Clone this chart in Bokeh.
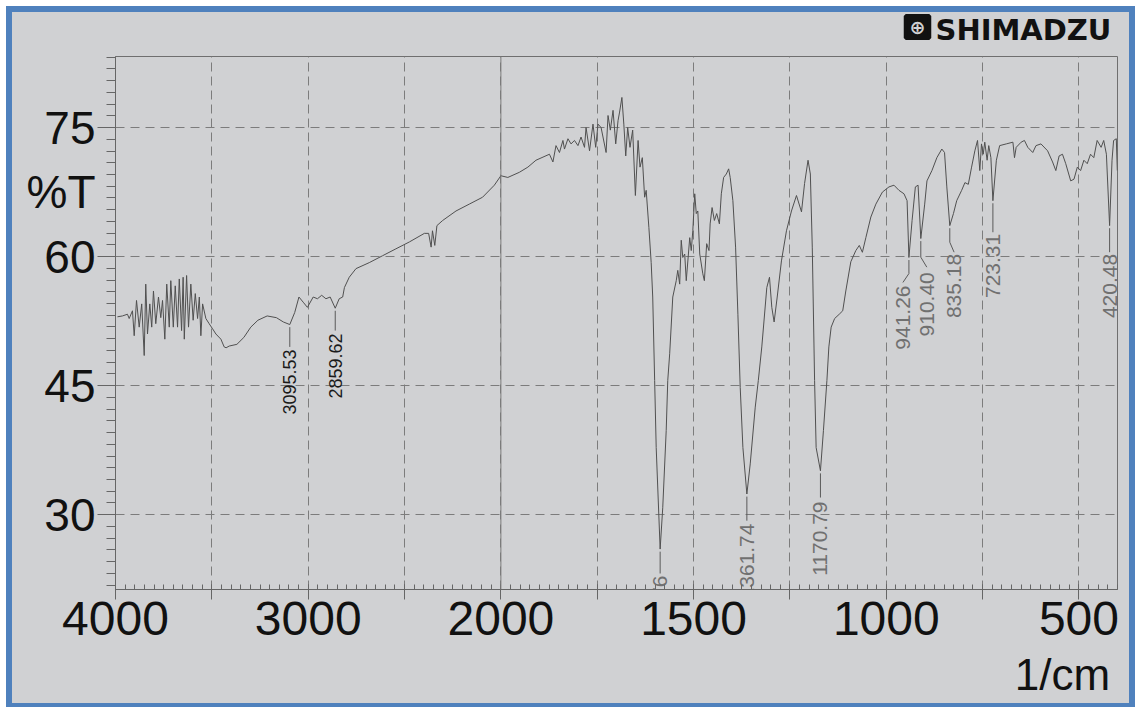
import numpy as np
from bokeh.plotting import figure
from bokeh.models import Range1d, FixedTicker, Span, Label, LinearAxis
from bokeh.core.properties import value
from bokeh.embed import file_html
from bokeh.resources import INLINE

# ---- FTIR trace: wavenumber (1/cm) and %T ----
wavenumber = [
    3990, 3964, 3938, 3929, 3912, 3903, 3891, 3877, 3864, 3851, 3843, 3834, 3822, 3812,
    3803, 3791, 3777, 3765, 3756, 3744, 3734, 3721, 3713, 3700, 3690, 3678, 3669, 3657,
    3649, 3643, 3631, 3621, 3609, 3597, 3586, 3574, 3565, 3557, 3548, 3531, 3514, 3496,
    3479, 3453, 3436, 3426, 3410, 3370, 3334, 3298, 3261, 3213, 3165, 3129, 3095.53,
    3070, 3048, 3026, 3004, 2974, 2952, 2930, 2908, 2886, 2859.62, 2839, 2821, 2812,
    2787, 2752, 2683, 2614, 2545, 2475, 2397, 2375, 2362, 2355, 2343, 2332, 2302, 2233,
    2164, 2095, 2034, 2000, 1982, 1952, 1930, 1909, 1874,
    1865, 1857, 1848, 1839, 1835, 1826, 1818, 1809, 1800, 1792, 1783, 1779, 1770, 1761,
    1754, 1748, 1740, 1727, 1722, 1716, 1709, 1702, 1696, 1692, 1686, 1681, 1676, 1671,
    1665, 1658, 1651, 1644, 1639, 1633, 1627, 1623, 1616, 1610, 1606, 1601, 1597,
    1586.76, 1580, 1571, 1567, 1562, 1554, 1545, 1541, 1536, 1532, 1528, 1523, 1519,
    1510, 1506, 1502, 1497, 1493, 1489, 1484, 1476, 1472, 1466, 1460, 1457, 1452, 1446,
    1440, 1433, 1428, 1422, 1415, 1409, 1405, 1398, 1391, 1385, 1379, 1372, 1361.74,
    1353, 1340, 1332, 1323, 1310, 1303, 1297, 1291, 1283, 1272, 1259, 1246, 1233, 1220,
    1212, 1203, 1197, 1192, 1186, 1182, 1170.79, 1163, 1154, 1149, 1143, 1134, 1122,
    1113, 1105, 1092, 1079, 1070, 1062, 1053, 1040, 1027, 1010, 993, 980, 967, 954, 946,
    941.26, 933, 924.5, 917.5, 910.40, 900.3, 894.4, 881.5, 868.7, 855.8, 848.8, 842.9,
    835.18, 825.7, 817.2, 804.4, 795.9, 787.1, 778.6, 770.1, 763.2, 757.3, 752.9, 748.5,
    744.4, 738.3, 734.1, 728.5, 723.31, 714.3, 705.8, 688.6, 671.4, 667.3, 662.9, 650,
    641.5, 632.8, 619.9, 611.5, 598.6, 581.4, 568.5, 560, 551.5, 542.8, 534.3, 521.4,
    512.9, 504.2, 495.7, 487.2, 478.5, 470, 461.5, 452.8, 442.5, 435.8, 428.8, 420.48,
    414.2, 410.1, 403.1, 400.5,
]
transmittance = [
    53.0, 53.1, 53.3, 52.8, 53.7, 50.8, 54.9, 51.8, 54.5, 48.5, 56.8, 51.0, 54.5, 51.8,
    56.0, 52.2, 55.3, 52.9, 54.9, 50.4, 56.8, 51.8, 57.2, 51.8, 56.6, 51.8, 57.4, 51.4,
    57.6, 50.4, 57.8, 51.8, 56.8, 52.6, 55.7, 52.8, 55.3, 50.8, 54.5, 52.8, 52.2, 51.6,
    51.0, 50.4, 49.5, 49.4, 49.6, 49.8, 50.6, 51.8, 52.6, 53.1, 52.9, 52.4, 52.1,
    53.5, 55.3, 54.7, 54.1, 55.3, 55.1, 55.5, 55.1, 55.3, 54.0, 55.1, 55.3, 56.4,
    57.6, 58.6, 59.3, 60.1, 60.9, 61.7, 62.7, 62.7, 61.1, 63.0, 61.3, 63.6, 64.2, 65.3,
    66.1, 66.9, 68.3, 69.4, 69.2, 69.8, 70.4, 71.2, 71.9,
    71.0, 72.9, 72.1, 73.5, 72.5, 73.7, 73.1, 73.5, 72.9, 73.9, 72.7, 75.0, 72.3, 75.4,
    72.7, 75.4, 75.0, 72.1, 76.4, 74.7, 77.0, 73.1, 75.8, 76.8, 78.5, 75.4, 71.7, 75.0,
    72.7, 74.7, 67.1, 73.5, 70.4, 71.5, 66.9, 67.7, 63.4, 59.3, 55.3, 45.6, 37.8,
    26.0, 30.8, 39.8, 45.6, 48.7, 55.3, 57.2, 58.4, 56.8, 61.9, 59.9, 60.3, 57.2,
    62.2, 60.7, 63.0, 67.3, 65.0, 65.3, 60.3, 58.0, 57.2, 61.5, 60.7, 63.8, 65.7, 64.2,
    65.0, 63.8, 67.3, 69.2, 69.6, 70.2, 69.2, 66.5, 61.1, 53.3, 44.8, 37.8, 32.4,
    35.9, 42.5, 45.6, 49.5, 56.4, 57.6, 54.1, 52.4, 55.3, 59.5, 63.0, 65.3, 67.1, 65.2,
    68.5, 71.2, 69.6, 61.1, 45.6, 37.8, 35.1, 39.8, 45.6, 49.5, 51.8, 52.8, 53.3,
    53.7, 56.0, 59.4, 60.7, 61.3, 60.5, 62.2, 64.6, 66.1, 67.5, 68.1, 68.3, 67.7, 67.3, 66.5,
    59.9, 64.2, 68.1, 68.3, 62.1, 66.1, 68.8, 70.0, 71.5, 72.5, 72.1, 68.1,
    63.6, 65.0, 66.5, 67.7, 68.6, 68.4, 70.4, 72.3, 73.5, 70.0, 73.1, 71.9,
    73.3, 71.2, 72.9, 71.5, 66.5, 71.2, 72.9, 73.1, 73.3, 71.5, 72.7, 73.3,
    73.5, 72.7, 72.1, 72.9, 73.1, 72.3, 71.0, 70.0, 71.7, 71.9, 70.8, 68.8,
    69.0, 70.4, 70.0, 71.2, 70.8, 71.9, 71.5, 73.5, 72.7, 73.5, 71.9, 63.6,
    71.2, 73.5, 73.7, 70.0,
]

# ---- picked peaks ----
peak_wavenumber = [3095.53, 2859.62, 1586.76, 1361.74, 1170.79, 941.26, 910.40, 835.18, 723.31, 420.48]
peak_label = ["3095.53", "2859.62", "1586.76", "1361.74", "1170.79",
              "941.26", "910.40", "835.18", "723.31", "420.48"]

# ---- axis ticks and titles ----
x_tick_wavenumber = [4000, 3500, 3000, 2500, 2000, 1750, 1500, 1250, 1000, 750, 500]
x_tick_label = ["4000", "", "3000", "", "2000", "", "1500", "", "1000", "", "500"]
y_tick_values = [30, 45, 60, 75]
y_title, x_title = "%T", "1/cm"
brand = "SHIMADZU"

# leader-line layout for each peak label: (bend %T, end %T, text-top %T, sideways shift px)
leader_layout = [
    (None, 49.5, 49.2, 0), (None, 51.4, 51.06, 0), (None, 23.16, 22.93, 0),
    (None, 29.3, 28.97, 0), (None, 31.99, 31.53, 0), (58.03, 56.99, 56.64, -6),
    (59.93, 58.77, 58.18, 6), (61.67, 60.51, 60.32, 4.3), (None, 62.83, 62.65, 0),
    (None, 60.51, 60.32, 0),
]


def to_axis(w):
    """Chart abscissa: 4000-2000 at single scale, 2000-400 at double scale."""
    w = np.asarray(w, dtype=float)
    return np.where(w >= 2000, 4000 - w, 2000 + 2 * (2000 - w))


W, H = 1135, 707
FL, FR, FT, FB = 115, 1117, 56, 589           # frame edges in canvas pixels
U_MAX = 5200.0
PX_PER_U = (FR - FL) / U_MAX
Y0, Y1 = 21.3, 83.26
PX_PER_T = (FB - FT) / (Y1 - Y0)
BG = "#d0d1d3"
BLUE = "#4f81bd"
GRID = "#7c7c7c"
INK = "#111111"

p = figure(width=W, height=H, output_backend="svg", toolbar_location=None,
           x_range=Range1d(0, U_MAX), y_range=Range1d(Y0, Y1),
           min_border_left=FL, min_border_right=W - FR,
           min_border_top=FT, min_border_bottom=H - FB)
p.background_fill_color = BG
p.border_fill_alpha = 0
# sheet behind the canvas: white edge, blue rule, grey paper
p.styles = {
    "background": (f"linear-gradient({BG},{BG}) 12px 12px / 1117px 691px no-repeat, "
                   f"linear-gradient({BLUE},{BLUE}) 6px 6px / 1129px 701px no-repeat, #ffffff"),
}
p.outline_line_color = "#6f6f6f"
p.outline_line_width = 1

# x axis with ticks and wavenumber labels
xa = p.xaxis[0]
xa.ticker = FixedTicker(ticks=[float(v) for v in to_axis(x_tick_wavenumber)],
                        minor_ticks=[float(v) for v in np.arange(0, U_MAX + 1, 50)])
xa.major_label_overrides = {float(u): s for u, s in zip(to_axis(x_tick_wavenumber), x_tick_label)}
xa.major_label_text_font = "Liberation Sans"
xa.major_label_text_font_size = "48px"
xa.major_label_text_color = INK
xa.major_label_standoff = 2
xa.major_tick_in = 5
xa.major_tick_out = 10
xa.minor_tick_in = 5
xa.minor_tick_out = 0
xa.axis_line_color = "#666666"
xa.major_tick_line_color = "#666666"
xa.minor_tick_line_color = "#666666"

# unit title under the wavenumber labels
u_title = (1062 - FL) / PX_PER_U
xt = LinearAxis(ticker=FixedTicker(ticks=[u_title], minor_ticks=[]),
                major_label_overrides={u_title: x_title},
                major_label_text_font="Liberation Sans", major_label_text_font_size="44px",
                major_label_text_color=INK, major_label_standoff=12,
                major_tick_in=0, major_tick_out=0, minor_tick_in=0, minor_tick_out=0,
                axis_line_color=None, major_tick_line_color=None, minor_tick_line_color=None)
p.add_layout(xt, "below")

# y axis: tick marks only (labels come from the outer axis)
ya = p.yaxis[0]
minor_y = [30 + k * 15 / 11 for k in range(-7, 45) if Y0 <= 30 + k * 15 / 11 <= Y1]
ya.ticker = FixedTicker(ticks=y_tick_values, minor_ticks=minor_y)
ya.major_label_overrides = {v: "" for v in y_tick_values}
ya.major_label_text_font_size = "1px"
ya.major_label_standoff = 0
ya.major_tick_in = 0
ya.major_tick_out = 18
ya.minor_tick_in = 0
ya.minor_tick_out = 9
ya.axis_line_color = "#666666"
ya.major_tick_line_color = "#666666"
ya.minor_tick_line_color = "#666666"

# y labels and %T title, set just outside the tick marks
t_title = Y1 - (191 - FT) / PX_PER_T
yl_ticks = y_tick_values + [t_title]
yl = LinearAxis(ticker=FixedTicker(ticks=yl_ticks, minor_ticks=[]),
                major_label_overrides={t_title: y_title},
                major_label_text_font="Liberation Sans", major_label_text_font_size="46px",
                major_label_text_color=INK, major_label_standoff=2,
                major_tick_in=0, major_tick_out=0, minor_tick_in=0, minor_tick_out=0,
                axis_line_color=None, major_tick_line_color=None, minor_tick_line_color=None)
p.add_layout(yl, "left")

# dashed grid, solid line at 2000
p.xgrid.grid_line_color = GRID
p.xgrid.grid_line_dash = "9 5"
p.ygrid.grid_line_color = GRID
p.ygrid.grid_line_dash = "9 6"
p.add_layout(Span(location=float(to_axis(2000)), dimension="height",
                  line_color=GRID, line_width=1))

# spectrum trace
p.line(to_axis(wavenumber), transmittance, line_color="#505050", line_width=1)

# peak markers: leader lines and rotated values
wn_sorted = np.array(wavenumber[::-1], dtype=float)
t_sorted = np.array(transmittance[::-1], dtype=float)
xs_lines, ys_lines = [], []
txt = {"dark": ([], [], []), "grey": ([], [], [])}
for w, lab, (bend, end, top, shift) in zip(peak_wavenumber, peak_label, leader_layout):
    u = float(to_axis(w))
    dip = float(np.interp(w, wn_sorted, t_sorted))
    u_end = u + shift / PX_PER_U
    if bend is None:
        xs_lines.append([u, u])
        ys_lines.append([dip - 0.3, end])
    else:
        xs_lines.append([u, u, u_end])
        ys_lines.append([dip - 0.3, bend, end])
    key = "dark" if w > 2000 else "grey"
    txt[key][0].append(u_end)
    txt[key][1].append(top)
    txt[key][2].append(lab)

p.multi_line(xs_lines, ys_lines, line_color="#5a5a5a", line_width=1)
p.text(x=txt["dark"][0], y=txt["dark"][1], text=txt["dark"][2], angle=np.pi / 2,
       text_align="right", text_baseline="middle", text_font=value("Liberation Sans"),
       text_font_size="18px", text_color="#1a1a1a")
p.text(x=txt["grey"][0], y=txt["grey"][1], text=txt["grey"][2], angle=np.pi / 2,
       text_align="right", text_baseline="middle", text_font=value("Liberation Sans"),
       text_font_size="21px", text_color="#707070")

# maker logo in the top margin (badge nearest the frame, name stacked above it)
badge_px = 19
badge_h = badge_px * 1.164
p.add_layout(Label(x=917 - FL, y=FT - 26.5, x_units="screen", y_units="screen",
                   text="\u2009\u2295\u2009", text_align="center", text_baseline="middle",
                   text_font="DejaVu Sans", text_font_size=f"{badge_px}px",
                   text_font_style="bold", text_color=BG, background_fill_color=INK,
                   padding=0, border_line_color=INK, border_line_width=4), "above")
p.add_layout(Label(x=935 - FL, y=(FT - badge_h) - 27.5 - 1.5, x_units="screen",
                   y_units="screen", text=brand, text_align="left", text_baseline="middle",
                   text_font="DejaVu Sans", text_font_size="29px", text_font_style="bold",
                   text_color=INK), "above")

open("out.html", "w").write(file_html(p, INLINE))
